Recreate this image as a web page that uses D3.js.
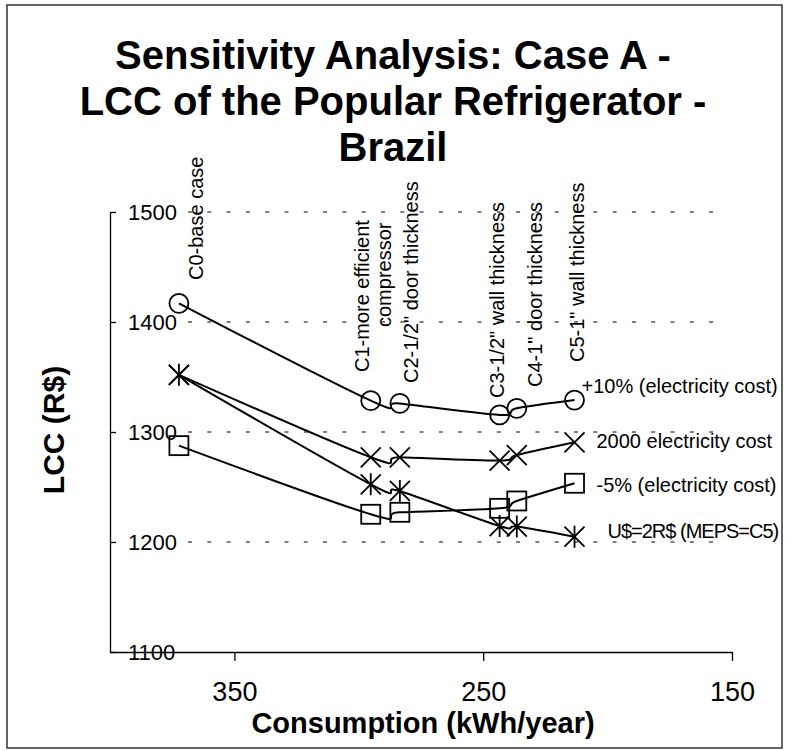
<!DOCTYPE html>
<html>
<head>
<meta charset="utf-8">
<script src="https://cdn.jsdelivr.net/npm/d3@7"></script>
<style>
  body { margin: 0; background: #fff; }
  svg { display: block; font-family: "Liberation Sans", Arial, sans-serif; }
</style>
</head>
<body>
<svg id="chart" width="785" height="751"></svg>
<script>
'use strict'

// ---------------------------------------------------------------- DATA
const titleLines = ['Sensitivity Analysis: Case A -', 'LCC of the Popular Refrigerator -', 'Brazil']
const caseLabels = [
  ['C0-base case'],
  ['C1-more efficient', 'compressor'],
  ['C2-1/2" door thickness'],
  ['C3-1/2" wall thickness'],
  ['C4-1" door thickness'],
  ['C5-1" wall thickness']
]
const consumption = [372.3, 295.2, 283.5, 243.4, 236.5, 213.3]

const plus10 = [1417, 1328.5, 1326, 1315.5, 1321.5, 1329]
const cost2000 = [1352, 1277, 1277, 1274, 1279, 1290.6]
const minus5 = [1287.6, 1225.2, 1227, 1230.6, 1237.3, 1253.4]
const usd2 = [1352, 1252.4, 1246.4, 1214.5, 1214, 1204.8]

const seriesNames = ['+10% (electricity cost)', '2000 electricity cost', '-5% (electricity cost)', 'U$=2R$ (MEPS=C5)']
const xTicks = [350, 250, 150]
const yTicks = [1100, 1200, 1300, 1400, 1500]

// ---------------------------------------------------------- LAYOUT
const svg = d3.select('#chart')

const x = d3.scaleLinear().domain([400, 150]).range([110, 732])
const y = d3.scaleLinear().domain([1100, 1500]).range([652, 212])

// outer border
svg.append('rect')
  .attr('x', 7).attr('y', 5).attr('width', 775).attr('height', 743)
  .attr('fill', 'none').attr('stroke', '#333').attr('stroke-width', 1.5)

// title
svg.append('g').selectAll('text').data(titleLines).enter()
  .append('text')
    .attr('x', 393)
    .attr('y', (d, i) => 69 + i * 46)
    .attr('text-anchor', 'middle')
    .style('font-size', '40px')
    .style('font-weight', 'bold')
    .text(d => d)

// ------------------------------------------------------- GRID/AXES
svg.append('g').selectAll('line').data(yTicks.filter(v => v > 1100)).enter()
  .append('line')
    .attr('x1', 188).attr('x2', 718)
    .attr('y1', d => y(d)).attr('y2', d => y(d))
    .attr('stroke', '#000').attr('stroke-width', 1)
    .attr('stroke-dasharray', '4,15.3')

let xAxis = d3.axisBottom(x).tickValues(xTicks).tickSize(9).tickSizeOuter(0).tickPadding(21)
let xg = svg.append('g').attr('transform', 'translate(0,652)').call(xAxis)
xg.selectAll('text').style('font-size', '27px').attr('fill', '#000')

let yAxis = d3.axisRight(y).tickValues(yTicks).tickFormat(d3.format('d'))
  .tickSize(6).tickSizeOuter(0).tickPadding(12)
let yg = svg.append('g').attr('transform', 'translate(110,0)').call(yAxis)
yg.selectAll('text').style('font-size', '22px').attr('fill', '#000')

svg.selectAll('.domain, .tick line').attr('stroke', '#000').attr('stroke-width', 1.3)

svg.append('text')
  .attr('x', 423).attr('y', 733)
  .attr('text-anchor', 'middle')
  .style('font-size', '29px').style('font-weight', 'bold')
  .text('Consumption (kWh/year)')

svg.append('text')
  .attr('transform', 'translate(64,430) rotate(-90)')
  .attr('text-anchor', 'middle')
  .style('font-size', '30px').style('font-weight', 'bold')
  .text('LCC (R$)')

// ------------------------------------------------------ CASE NOTES
// baseline offset from the point x, and bottom y of each note line
const notePos = [
  [{dx: 24, y: 280}],
  [{dx: -2, y: 372}, {dx: 20, y: 327}],
  [{dx: 18, y: 383}],
  [{dx: 4, y: 398}],
  [{dx: 25, y: 387}],
  [{dx: 9, y: 362}]
]
caseLabels.forEach((lines, i) => {
  lines.forEach((txt, j) => {
    let p = notePos[i][j]
    svg.append('text')
      .attr('transform', 'translate(' + (x(consumption[i]) + p.dx) + ',' + p.y + ') rotate(-90)')
      .style('font-size', '20px')
      .text(txt)
  })
})

// ---------------------------------------------------------- SERIES
const series = [
  {name: seriesNames[0], values: plus10, marker: 'circle', dx: 7, dy: -7},
  {name: seriesNames[1], values: cost2000, marker: 'x', dx: 22, dy: 6},
  {name: seriesNames[2], values: minus5, marker: 'square', dx: 22, dy: 9},
  {name: seriesNames[3], values: usd2, marker: 'star', dx: 33, dy: 1, squeeze: true}
]

const line = d3.line()
  .x(d => x(d[0]))
  .y(d => y(d[1]))
  .curve(d3.curveCardinal.tension(0))

function drawMarker(g, kind, cx, cy) {
  let s = 10
  if (kind == 'circle') {
    g.append('circle').attr('cx', cx).attr('cy', cy).attr('r', 9.5)
  } else if (kind == 'square') {
    g.append('rect').attr('x', cx - 9.5).attr('y', cy - 9.5).attr('width', 19).attr('height', 19)
  } else {
    g.append('path').attr('d',
      'M' + (cx - s) + ',' + (cy - s) + 'L' + (cx + s) + ',' + (cy + s) +
      'M' + (cx - s) + ',' + (cy + s) + 'L' + (cx + s) + ',' + (cy - s) +
      (kind == 'star' ? 'M' + cx + ',' + (cy - s - 1) + 'L' + cx + ',' + (cy + s + 1) : ''))
  }
}

series.forEach(ser => {
  let pts = consumption.map((c, i) => [c, ser.values[i]])
  let g = svg.append('g')
  g.append('path')
    .attr('d', line(pts))
    .attr('fill', 'none').attr('stroke', '#000').attr('stroke-width', 2)

  let mg = g.append('g').attr('fill', 'none').attr('stroke', '#000').attr('stroke-width', 1.8)
  pts.forEach(p => drawMarker(mg, ser.marker, x(p[0]), y(p[1])))

  let last = pts[pts.length - 1]
  g.append('text')
    .attr('x', x(last[0]) + ser.dx)
    .attr('y', y(last[1]) + ser.dy)
    .style('font-size', '20px')
    .style('letter-spacing', ser.squeeze ? '-1px' : null)
    .text(ser.name)
})
</script>
</body>
</html>
